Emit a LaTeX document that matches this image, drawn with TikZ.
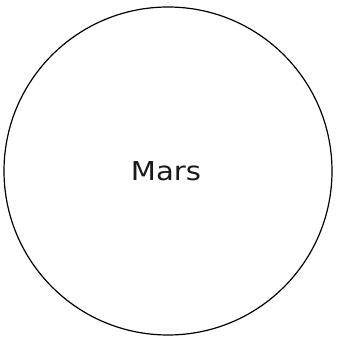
\documentclass[tikz,border=0pt]{standalone}
\usepackage{fontspec}
\setmainfont{DejaVu Sans}
\begin{document}
\begin{tikzpicture}[x=1pt,y=1pt,
  planet/.style={circle,draw=black,line width=1.2pt,minimum size=328pt,inner sep=0pt},
  label/.style={font=\fontsize{26}{30}\selectfont,text=black!90,xscale=1.12}]
\useasboundingbox (0,0) rectangle (338,340);
\node[planet] (mars) at (168,169) {};
\node[label] (name) at (166,169) {Mars};
\end{tikzpicture}
\end{document}
